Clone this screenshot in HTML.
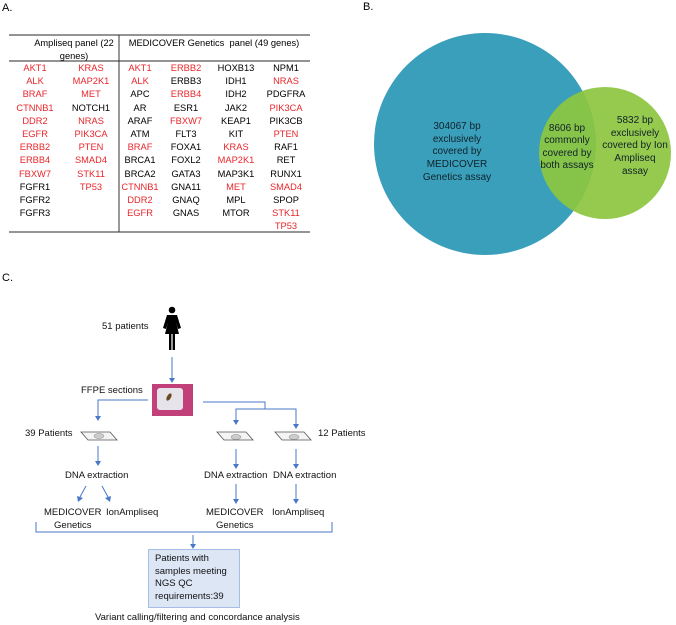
<!DOCTYPE html>
<html><head><meta charset="utf-8"><style>
body{margin:0;width:676px;height:625px;background:#fff;position:relative;overflow:hidden;font-family:"Liberation Sans",sans-serif;}
.t{position:absolute;white-space:nowrap;}
.c{position:absolute;transform:translateX(-50%);white-space:nowrap;font-size:9.3px;line-height:13.2px;text-align:center;}
.r{color:#e8262b}
</style></head><body>
<div class="t" style="left:2px;top:2px;font-size:11px">A.</div>
<div class="t" style="left:363px;top:1px;font-size:11px">B.</div>
<div class="t" style="left:2px;top:272px;font-size:11px">C.</div>

<svg width="676" height="625" style="position:absolute;left:0;top:0">
<line x1="9" y1="35" x2="310" y2="35" stroke="#555" stroke-width="1.3"/>
<line x1="9" y1="61" x2="310" y2="61" stroke="#555" stroke-width="1.3"/>
<line x1="9" y1="232" x2="310" y2="232" stroke="#555" stroke-width="1.3"/>
<line x1="119" y1="35" x2="119" y2="232" stroke="#333" stroke-width="1"/>
<circle cx="485" cy="144" r="111" fill="#3a9fbb"/>
<circle cx="605" cy="153" r="66" fill="#8cc63f" fill-opacity="0.92"/>
<g font-family="Liberation Sans" font-size="10" fill="#10222a" text-anchor="middle">
<text x="457" y="129">304067 bp</text><text x="457" y="142">exclusively</text><text x="457" y="154">covered by</text><text x="457" y="167">MEDICOVER</text><text x="457" y="180">Genetics assay</text>
<text x="567" y="131">8606 bp</text><text x="567" y="143">commonly</text><text x="567" y="156">covered by</text><text x="567" y="168">both assays</text>
<text x="635" y="123">5832 bp</text><text x="635" y="136">exclusively</text><text x="635" y="148">covered by Ion</text><text x="635" y="161">Ampliseq</text><text x="635" y="174">assay</text>
</g>
<g fill="#000">
<circle cx="172" cy="310" r="3.3"/>
<path d="M167,315 L177,315 L181,328 L178,329 L176,322 L179,334 L175,334 L175,350 L172.6,350 L172.6,334 L171.4,334 L171.4,350 L169,350 L169,334 L165,334 L168,322 L166,329 L163,328 Z"/>
</g>
<rect x="152" y="384" width="41" height="32" fill="#c2407a"/>
<rect x="157" y="388" width="26" height="22" rx="3" fill="#e6e3ea"/>
<ellipse cx="169" cy="397" rx="2" ry="4" fill="#6a4a20" transform="rotate(30 169 397)"/>
<g stroke="#4a78c8" stroke-width="1" fill="none">
<line x1="172" y1="357" x2="172" y2="378"/>
<polyline points="148,400 98,400 98,416"/>
<polyline points="203,402 265,402 265,409"/>
<polyline points="236,420 236,409 296,409 296,424"/>
<line x1="98" y1="446" x2="98" y2="461"/>
<line x1="236" y1="449" x2="236" y2="464"/>
<line x1="296" y1="449" x2="296" y2="464"/>
<line x1="86" y1="486" x2="80" y2="497"/>
<line x1="102" y1="486" x2="108" y2="497"/>
<line x1="236" y1="484" x2="236" y2="499"/>
<line x1="296" y1="484" x2="296" y2="499"/>
<polyline points="36,522 36,532 332,532 332,522"/>
<line x1="193" y1="535" x2="193" y2="544"/>
</g>
<g fill="#4a78c8">
<path d="M169,378 L175,378 L172,383 Z"/>
<path d="M95,416 L101,416 L98,421 Z"/>
<path d="M233,420 L239,420 L236,425 Z"/>
<path d="M293,424 L299,424 L296,429 Z"/>
<path d="M95,461 L101,461 L98,466 Z"/>
<path d="M233,464 L239,464 L236,469 Z"/>
<path d="M293,464 L299,464 L296,469 Z"/>
<path d="M77,496 L83,498 L78,502 Z"/>
<path d="M105,498 L111,496 L110,502 Z"/>
<path d="M233,499 L239,499 L236,504 Z"/>
<path d="M293,499 L299,499 L296,504 Z"/>
<path d="M190,544 L196,544 L193,549 Z"/>
</g>
<g fill="#f4f4f4" stroke="#555" stroke-width="0.8">
<polygon points="81,432 110,432 117,440 88,440"/>
<polygon points="217,432 246,432 253,440 224,440"/>
<polygon points="275,432 304,432 311,440 282,440"/>
</g>
<g fill="#ccc" stroke="#888" stroke-width="0.5">
<ellipse cx="99" cy="436" rx="5" ry="2.5"/><ellipse cx="236" cy="437" rx="5" ry="2.5"/><ellipse cx="294" cy="437" rx="5" ry="2.5"/>
</g>
<rect x="148.5" y="549.5" width="91" height="58" fill="#dce6f5" stroke="#a8bde6"/>
</svg>

<div class="c" style="left:74px;top:37px">Ampliseq panel (22<br>genes)</div>
<div class="c" style="left:214px;top:37px">MEDICOVER Genetics&nbsp; panel (49 genes)</div>

<div class="c" style="left:35px;top:62px"><span class="r">AKT1<br>ALK<br>BRAF<br>CTNNB1<br>DDR2<br>EGFR<br>ERBB2<br>ERBB4<br>FBXW7</span><br>FGFR1<br>FGFR2<br>FGFR3</div>
<div class="c" style="left:91px;top:62px"><span class="r">KRAS<br>MAP2K1<br>MET</span><br>NOTCH1<br><span class="r">NRAS<br>PIK3CA<br>PTEN<br>SMAD4<br>STK11<br>TP53</span></div>
<div class="c" style="left:140px;top:62px"><span class="r">AKT1<br>ALK</span><br>APC<br>AR<br>ARAF<br>ATM<br><span class="r">BRAF</span><br>BRCA1<br>BRCA2<br><span class="r">CTNNB1<br>DDR2<br>EGFR</span></div>
<div class="c" style="left:186px;top:62px"><span class="r">ERBB2</span><br>ERBB3<br><span class="r">ERBB4</span><br>ESR1<br><span class="r">FBXW7</span><br>FLT3<br>FOXA1<br>FOXL2<br>GATA3<br>GNA11<br>GNAQ<br>GNAS</div>
<div class="c" style="left:236px;top:62px">HOXB13<br>IDH1<br>IDH2<br>JAK2<br>KEAP1<br>KIT<br><span class="r">KRAS<br>MAP2K1</span><br>MAP3K1<br><span class="r">MET</span><br>MPL<br>MTOR</div>
<div class="c" style="left:286px;top:62px">NPM1<br><span class="r">NRAS</span><br>PDGFRA<br><span class="r">PIK3CA</span><br>PIK3CB<br><span class="r">PTEN</span><br>RAF1<br>RET<br>RUNX1<br><span class="r">SMAD4</span><br>SPOP<br><span class="r">STK11<br>TP53</span></div>

<div style="position:absolute;font-size:9.5px;line-height:12.5px;color:#111">
<div class="t" style="left:102px;top:321px">51 patients</div>
<div class="t" style="left:81px;top:385px">FFPE sections</div>
<div class="t" style="left:25px;top:428px">39 Patients</div>
<div class="t" style="left:318px;top:428px">12 Patients</div>
<div class="t" style="left:65px;top:470px">DNA extraction</div>
<div class="t" style="left:204px;top:470px">DNA extraction</div>
<div class="t" style="left:273px;top:470px">DNA extraction</div>
<div class="t" style="left:44px;top:507px;text-align:center">MEDICOVER<br>Genetics</div>
<div class="t" style="left:106px;top:507px">IonAmpliseq</div>
<div class="t" style="left:206px;top:507px;text-align:center">MEDICOVER<br>Genetics</div>
<div class="t" style="left:272px;top:507px">IonAmpliseq</div>
<div class="t" style="left:155px;top:553px">Patients with<br>samples meeting<br>NGS QC<br>requirements:39</div>
<div class="t" style="left:95px;top:612px">Variant calling/filtering and concordance analysis</div>
</div>
</body></html>
